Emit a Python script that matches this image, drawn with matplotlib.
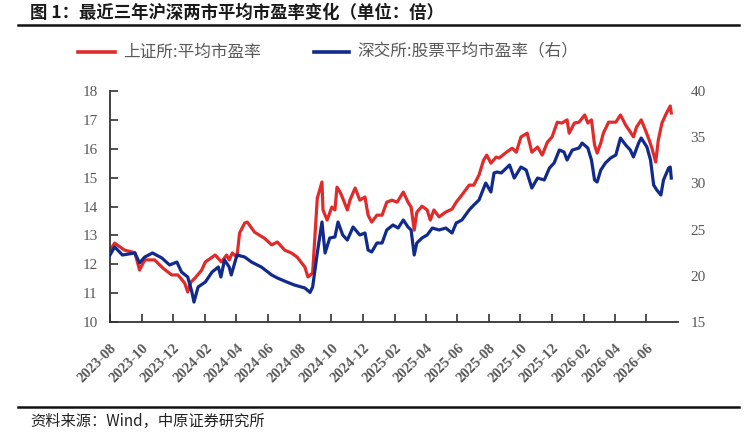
import matplotlib
matplotlib.use('Agg')
import matplotlib.pyplot as plt
from matplotlib.lines import Line2D
import pandas as pd

# 上证所 平均市盈率 (left axis)
sh_dates = ['2023-08-01', '2023-08-10', '2023-08-29', '2023-09-18', '2023-09-27', '2023-10-07',
            '2023-10-26', '2023-11-11', '2023-11-28', '2023-12-10', '2023-12-23', '2023-12-29',
            '2024-01-04', '2024-01-12', '2024-01-25', '2024-02-01', '2024-02-20', '2024-03-03',
            '2024-03-13', '2024-03-18', '2024-03-24', '2024-04-02', '2024-04-07', '2024-04-17',
            '2024-04-22', '2024-05-06', '2024-05-25', '2024-06-08', '2024-06-19', '2024-07-03',
            '2024-07-16', '2024-07-27', '2024-08-11', '2024-08-17', '2024-08-26', '2024-09-04',
            '2024-09-13', '2024-09-15', '2024-09-23', '2024-10-02', '2024-10-08', '2024-10-12',
            '2024-10-18', '2024-10-23', '2024-11-01', '2024-11-06', '2024-11-16', '2024-11-25',
            '2024-12-05', '2024-12-11', '2024-12-18', '2024-12-28', '2025-01-07', '2025-01-16',
            '2025-01-26', '2025-02-05', '2025-02-17', '2025-02-26', '2025-03-04', '2025-03-10',
            '2025-03-15', '2025-03-25', '2025-04-04', '2025-04-10', '2025-04-17', '2025-04-27',
            '2025-05-10', '2025-05-22', '2025-05-30', '2025-06-10', '2025-06-24', '2025-07-03',
            '2025-07-13', '2025-07-22', '2025-07-28', '2025-08-05', '2025-08-15', '2025-08-21',
            '2025-09-04', '2025-09-15', '2025-09-23', '2025-10-02', '2025-10-14', '2025-10-23',
            '2025-11-03', '2025-11-12', '2025-11-22', '2025-12-01', '2025-12-11', '2025-12-20',
            '2025-12-30', '2026-01-03', '2026-01-13', '2026-01-22', '2026-02-02', '2026-02-08',
            '2026-02-15', '2026-02-21', '2026-02-26', '2026-03-05', '2026-03-10', '2026-03-20',
            '2026-04-03', '2026-04-12', '2026-04-22', '2026-05-01', '2026-05-07', '2026-05-13',
            '2026-05-22', '2026-05-30', '2026-06-05', '2026-06-11', '2026-06-19', '2026-06-24',
            '2026-07-01', '2026-07-08', '2026-07-17', '2026-07-19']
sh_pe = [12.49, 12.73, 12.49, 12.40, 11.80, 12.15,
         12.15, 11.87, 11.63, 11.63, 11.35, 11.04,
         11.38, 11.52, 11.80, 12.08, 12.32, 12.08,
         12.32, 12.15, 12.39, 12.25, 13.08, 13.43,
         13.46, 13.11, 12.90, 12.67, 12.77, 12.49,
         12.39, 12.25, 11.90, 11.56, 11.70, 14.29,
         14.85, 13.88, 13.53, 13.98, 13.88, 14.67,
         14.50, 14.29, 13.88, 14.22, 14.64, 14.22,
         14.33, 13.70, 13.46, 13.70, 13.70, 14.15,
         14.22, 14.15, 14.50, 14.15, 13.98, 13.18,
         13.80, 14.01, 13.88, 13.53, 13.88, 13.64,
         13.81, 13.91, 14.15, 14.40, 14.74, 14.74,
         15.09, 15.61, 15.78, 15.50, 15.71, 15.68,
         15.88, 16.02, 15.88, 16.41, 16.54, 15.88,
         16.06, 15.78, 16.23, 16.41, 16.92, 16.89,
         17.00, 16.54, 16.89, 16.92, 17.17, 16.89,
         17.00, 16.13, 15.85, 16.20, 16.54, 16.92,
         16.92, 17.17, 16.82, 16.58, 16.41, 16.75,
         17.00, 16.65, 16.37, 16.06, 15.54, 16.30,
         16.89, 17.17, 17.48, 17.24]

# 深交所 股票平均市盈率 (right axis)
sz_dates = ['2023-08-01', '2023-08-10', '2023-08-25', '2023-09-18', '2023-09-27', '2023-10-07',
            '2023-10-22', '2023-11-09', '2023-11-24', '2023-12-08', '2023-12-17', '2023-12-29',
            '2024-01-06', '2024-01-10', '2024-01-18', '2024-02-01', '2024-02-14', '2024-02-26',
            '2024-03-02', '2024-03-09', '2024-03-18', '2024-03-22', '2024-04-02', '2024-04-17',
            '2024-04-30', '2024-05-19', '2024-06-08', '2024-06-19', '2024-07-07', '2024-07-22',
            '2024-08-11', '2024-08-21', '2024-08-26', '2024-09-04', '2024-09-13', '2024-09-19',
            '2024-09-28', '2024-10-08', '2024-10-14', '2024-10-23', '2024-11-01', '2024-11-12',
            '2024-11-25', '2024-12-05', '2024-12-11', '2024-12-18', '2024-12-28', '2025-01-07',
            '2025-01-16', '2025-01-28', '2025-02-07', '2025-02-17', '2025-02-26', '2025-03-04',
            '2025-03-10', '2025-03-15', '2025-03-25', '2025-04-04', '2025-04-14', '2025-04-27',
            '2025-05-10', '2025-05-22', '2025-05-30', '2025-06-10', '2025-06-24', '2025-07-03',
            '2025-07-13', '2025-07-26', '2025-08-05', '2025-08-11', '2025-08-17', '2025-08-25',
            '2025-09-10', '2025-09-19', '2025-10-02', '2025-10-12', '2025-10-23', '2025-11-03',
            '2025-11-16', '2025-11-26', '2025-12-05', '2025-12-15', '2025-12-24', '2025-12-30',
            '2026-01-09', '2026-01-22', '2026-01-28', '2026-02-08', '2026-02-15', '2026-02-21',
            '2026-02-26', '2026-03-05', '2026-03-14', '2026-03-24', '2026-04-03', '2026-04-12',
            '2026-04-22', '2026-05-01', '2026-05-07', '2026-05-17', '2026-05-22', '2026-06-02',
            '2026-06-09', '2026-06-15', '2026-06-21', '2026-06-29', '2026-07-04', '2026-07-14',
            '2026-07-17', '2026-07-19']
sz_pe = [22.25, 23.12, 22.25, 22.47, 21.39, 22.03,
         22.47, 21.93, 21.17, 21.49, 20.41, 19.87,
         18.25, 17.16, 18.79, 19.33, 20.41, 20.95,
         19.87, 21.71, 20.95, 20.09, 22.25, 22.03,
         21.49, 20.95, 20.09, 19.76, 19.33, 19.00,
         18.68, 18.20, 18.79, 22.47, 25.82, 22.47,
         24.09, 24.20, 25.82, 24.42, 23.87, 25.28,
         24.42, 24.63, 22.79, 22.58, 23.55, 23.55,
         24.96, 25.50, 25.17, 26.04, 25.28, 24.96,
         22.25, 23.55, 24.09, 24.42, 25.17, 24.96,
         25.17, 24.63, 25.71, 26.04, 27.12, 27.66,
         28.20, 30.04, 29.07, 31.13, 31.23, 31.13,
         31.99, 30.58, 31.77, 31.45, 29.50, 30.58,
         30.37, 31.67, 32.21, 33.61, 33.40, 32.53,
         33.61, 33.83, 34.37, 33.83, 32.53, 30.37,
         30.15, 31.45, 32.21, 32.75, 33.07, 34.91,
         34.16, 33.61, 32.86, 34.37, 34.91, 33.94,
         32.53, 29.83, 29.29, 28.74, 30.37, 31.67,
         31.77, 30.58]

x_ticks = pd.date_range('2023-08-01', '2026-06-01', freq='2MS')
x_labels = [d.strftime('%Y-%m') for d in x_ticks]
left_ticks = [10, 11, 12, 13, 14, 15, 16, 17, 18]
right_ticks = [15, 20, 25, 30, 35, 40]

red = '#E12B2B'
blue = '#112A8C'
grey = '#595959'
cjk = ['Noto Sans CJK SC', 'DejaVu Sans']
serif = 'Liberation Serif'

W, H = 753, 432
fig = plt.figure(figsize=(W / 100, H / 100), dpi=100)
ax = fig.add_axes([110 / W, 1 - 322 / H, 568 / W, 231 / H])
ax2 = ax.twinx()

ax.plot(pd.to_datetime(sh_dates), sh_pe, color=red, lw=2.3, solid_joinstyle='round')
ax2.plot(pd.to_datetime(sz_dates), sz_pe, color=blue, lw=2.3, solid_joinstyle='round')

ax.set_xlim(pd.Timestamp('2023-08-01'), pd.Timestamp('2026-08-01'))
ax.set_ylim(10, 18)
ax2.set_ylim(15, 40)

ax.set_yticks(left_ticks)
ax.set_yticklabels([str(v) for v in left_ticks], fontfamily=serif, fontsize=11, color=grey)
ax2.set_yticks(right_ticks)
ax2.set_yticklabels([str(v) for v in right_ticks], fontfamily=serif, fontsize=11, color=grey)
ax.set_xticks(x_ticks)
ax.set_xticklabels(x_labels, rotation=45, ha='right', va='top', rotation_mode='anchor',
                   fontfamily=serif, fontsize=10.5, fontweight='bold', color=grey)

for s in ['top', 'right']:
    ax.spines[s].set_visible(False)
for s in ax2.spines.values():
    s.set_visible(False)
for s in ['left', 'bottom']:
    ax.spines[s].set_color('#333333')
    ax.spines[s].set_linewidth(1.3)

ax.tick_params(axis='y', direction='in', length=6, width=1.2, color='#333333', pad=9)
ax.tick_params(axis='x', direction='in', length=6, width=1.2, color='#333333', pad=14)
ax2.tick_params(axis='y', length=0, pad=9)

# title and rules
fig.text(30 / W, 1 - 13 / H, '图 1：最近三年沪深两市平均市盈率变化（单位：倍）',
         family=cjk, fontsize=12.5, fontweight='bold', color='#1a1a1a', va='center', ha='left')
fig.add_artist(Line2D([18 / W, 739 / W], [1 - 25 / H] * 2, color='#111111', lw=1.8))
fig.add_artist(Line2D([18 / W, 739 / W], [1 - 407 / H] * 2, color='#111111', lw=1.8))
fig.text(30 / W, 1 - 421 / H, '资料来源：Wind，中原证券研究所',
         family=cjk, fontsize=11, color='#222222', va='center', ha='left')

# legend
fig.add_artist(Line2D([78 / W, 115 / W], [1 - 52 / H] * 2, color=red, lw=2.6))
fig.text(123 / W, 1 - 52 / H, '上证所:平均市盈率', family=cjk, fontsize=12,
         color=grey, va='center', ha='left')
fig.add_artist(Line2D([314 / W, 349 / W], [1 - 52 / H] * 2, color=blue, lw=2.6))
fig.text(357 / W, 1 - 52 / H, '深交所:股票平均市盈率（右）', family=cjk, fontsize=12,
         color=grey, va='center', ha='left')

fig.savefig('out.png', dpi=100)
